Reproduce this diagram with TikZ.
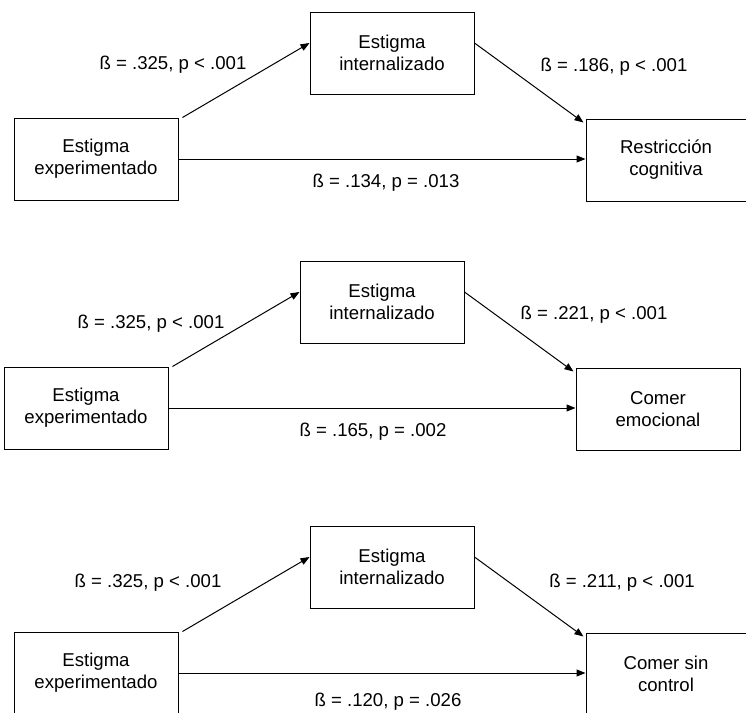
\documentclass[tikz,border=0pt]{standalone}
\usepackage{fontspec}
\setmainfont{Liberation Sans}
\usepackage{tikz}
\usetikzlibrary{arrows.meta,positioning}
\tikzstyle{caja}  =[rectangle, draw, minimum width=82pt, minimum height=41pt,
                    align=center, line width=0.5pt, inner sep=0pt,
                    font=\fontsize{9.3}{11}\selectfont]
\tikzstyle{coef}  =[inner sep=0pt, font=\fontsize{9.3}{11}\selectfont]
\tikzstyle{flecha}=[-{Triangle[length=4.5pt,width=3.5pt]}, line width=0.5pt]

\begin{document}
\begin{tikzpicture}[x=0.5pt,y=-0.5pt]
    \useasboundingbox (0,0) rectangle (746,713);

        \begin{scope}[]
            \draw (96,159) node (exp) [caja] {Estigma\\experimentado};
            \draw (392,53) node (int) [caja] {Estigma\\internalizado};
            \draw (666,160) node (res) [caja,minimum width=80pt] {Restricción\\cognitiva};
            \node (b1) [coef] at (173,65) {ß = .325, p < .001};
            \node (b2) [coef] at (614,67) {ß = .186, p < .001};
            \node (b3) [coef] at (386,183) {ß = .134, p = .013};

            \draw [flecha] ([xshift=2pt]exp.north east) to ([yshift=5pt]int.west);
            \draw [flecha] ([yshift=5pt]int.east) to ([xshift=-1pt,yshift=-2pt]res.north west);
            \draw [flecha] (exp.east) to (exp.east -| res.west);
        \end{scope}

        \begin{scope}[shift={(-10,249)}]
            \draw (96,159) node (exp) [caja] {Estigma\\experimentado};
            \draw (392,53) node (int) [caja] {Estigma\\internalizado};
            \draw (668,160) node (res) [caja] {Comer\\emocional};
            \node (b1) [coef] at (161,75) {ß = .325, p < .001};
            \node (b2) [coef] at (604,66) {ß = .221, p < .001};
            \node (b3) [coef] at (383,183) {ß = .165, p = .002};

            \draw [flecha] ([xshift=2pt]exp.north east) to ([yshift=5pt]int.west);
            \draw [flecha] ([yshift=5pt]int.east) to ([xshift=-1pt,yshift=-2pt]res.north west);
            \draw [flecha] (exp.east) to (exp.east -| res.west);
        \end{scope}

        \begin{scope}[shift={(0,514)}]
            \draw (96,159) node (exp) [caja] {Estigma\\experimentado};
            \draw (392,53) node (int) [caja] {Estigma\\internalizado};
            \draw (666,160) node (res) [caja,minimum width=80pt] {Comer sin\\control};
            \node (b1) [coef] at (148,69) {ß = .325, p < .001};
            \node (b2) [coef] at (622,69) {ß = .211, p < .001};
            \node (b3) [coef] at (388,188) {ß = .120, p = .026};

            \draw [flecha] ([xshift=2pt]exp.north east) to ([yshift=5pt]int.west);
            \draw [flecha] ([yshift=5pt]int.east) to ([xshift=-1pt,yshift=-2pt]res.north west);
            \draw [flecha] (exp.east) to (exp.east -| res.west);
        \end{scope}

    \end{tikzpicture}
\end{document}
